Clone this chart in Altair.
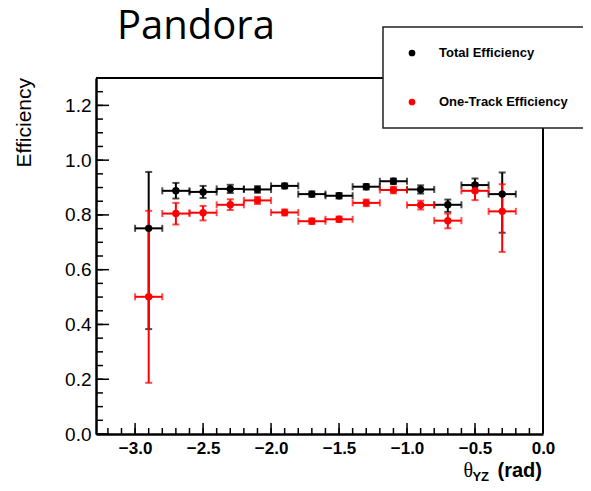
import altair as alt
import pandas as pd

# ---- data ----
theta = [-2.9, -2.7, -2.5, -2.3, -2.1, -1.9, -1.7, -1.5, -1.3, -1.1, -0.9, -0.7, -0.5, -0.3]
half_bin = 0.1

total = [0.751, 0.888, 0.884, 0.895, 0.893, 0.906, 0.876, 0.870, 0.903, 0.923, 0.893, 0.837, 0.909, 0.876]
total_hi = [0.957, 0.917, 0.906, 0.910, 0.905, 0.915, 0.886, 0.880, 0.913, 0.933, 0.908, 0.856, 0.933, 0.955]
total_lo = [0.383, 0.860, 0.862, 0.880, 0.881, 0.897, 0.866, 0.860, 0.893, 0.913, 0.878, 0.811, 0.884, 0.735]

onetrack = [0.501, 0.805, 0.808, 0.837, 0.853, 0.809, 0.777, 0.784, 0.844, 0.891, 0.836, 0.779, 0.888, 0.813]
onetrack_hi = [0.815, 0.844, 0.833, 0.857, 0.866, 0.820, 0.787, 0.794, 0.856, 0.903, 0.852, 0.805, 0.915, 0.912]
onetrack_lo = [0.187, 0.765, 0.780, 0.818, 0.840, 0.798, 0.767, 0.774, 0.832, 0.879, 0.820, 0.751, 0.854, 0.665]

series_names = ["Total Efficiency", "One-Track Efficiency"]
series_colors = ["#000000", "#ff0000"]

x_major = [-3.0, -2.5, -2.0, -1.5, -1.0, -0.5, 0.0]
x_minor = [round(-3.2 + 0.1 * i, 2) for i in range(33)]
y_major = [0.0, 0.2, 0.4, 0.6, 0.8, 1.0, 1.2]
y_minor = [round(0.05 * i, 2) for i in range(27)]

X_DOMAIN = [-3.2875, 0.0]
Y_DOMAIN = [0.0, 1.3]
W, H = 447, 356

xs = alt.Scale(domain=X_DOMAIN, nice=False, zero=False)
ys = alt.Scale(domain=Y_DOMAIN, nice=False, zero=False)

x_axis = alt.Axis(
    values=x_major, format=".1f", title=None, ticks=False, grid=False,
    domainColor="black", domainWidth=2.5, labelFont="Liberation Sans",
    labelFontSize=17, labelFontWeight="bold", labelColor="black", labelPadding=6,
    labelFlush=False, labelOverlap=False)
y_axis = alt.Axis(
    values=y_major, format=".1f", title=None, ticks=False, grid=False,
    domainColor="black", domainWidth=2.5, labelFont="Liberation Sans",
    labelFontSize=19, labelColor="black", labelPadding=5,
    labelFlush=False, labelOverlap=False)

def frame(vals, lo, hi):
    return pd.DataFrame({
        "x": theta,
        "xlo": [t - half_bin for t in theta],
        "xhi": [t + half_bin for t in theta],
        "y": vals, "ylo": lo, "yhi": hi,
    })

df_total = frame(total, total_lo, total_hi)
df_one = frame(onetrack, onetrack_lo, onetrack_hi)

X = lambda f: alt.X(f, type="quantitative", scale=xs, axis=x_axis)
Y = lambda f: alt.Y(f, type="quantitative", scale=ys, axis=y_axis)

def err_layers(df, color):
    b = alt.Chart(df)
    return [
        b.mark_rule(color=color, strokeWidth=2).encode(x=X("xlo"), x2="xhi", y=Y("y")),
        b.mark_tick(color=color, orient="vertical", size=7, thickness=2).encode(x=X("xlo"), y=Y("y")),
        b.mark_tick(color=color, orient="vertical", size=7, thickness=2).encode(x=X("xhi"), y=Y("y")),
        b.mark_rule(color=color, strokeWidth=2).encode(x=X("x"), y=Y("ylo"), y2="yhi"),
        b.mark_tick(color=color, orient="horizontal", size=7, thickness=2).encode(x=X("x"), y=Y("ylo")),
        b.mark_tick(color=color, orient="horizontal", size=7, thickness=2).encode(x=X("x"), y=Y("yhi")),
    ]

def pts(df, color):
    return alt.Chart(df).mark_circle(color=color, size=55, opacity=1).encode(x=X("x"), y=Y("y"))

one = pd.DataFrame({"a": [0]})

# inner ticks
ty_major = alt.Chart(pd.DataFrame({"v": y_major})).mark_rule(color="black", strokeWidth=1.5).encode(
    y=Y("v"), x=alt.value(0), x2=alt.value(13))
ty_minor = alt.Chart(pd.DataFrame({"v": y_minor})).mark_rule(color="black", strokeWidth=1.5).encode(
    y=Y("v"), x=alt.value(0), x2=alt.value(7))
tx_major = alt.Chart(pd.DataFrame({"v": x_major})).mark_rule(color="black", strokeWidth=1.5).encode(
    x=X("v"), y=alt.value(H), y2=alt.value(H - 11))
tx_minor = alt.Chart(pd.DataFrame({"v": x_minor})).mark_rule(color="black", strokeWidth=1.5).encode(
    x=X("v"), y=alt.value(H), y2=alt.value(H - 6))

# top and right frame
top_line = alt.Chart(one).mark_rule(color="black", strokeWidth=2).encode(
    x=alt.value(0), x2=alt.value(W), y=alt.value(0))
right_line = alt.Chart(one).mark_rule(color="black", strokeWidth=2).encode(
    x=alt.value(W), y=alt.value(0), y2=alt.value(H))

# title and axis titles
title = alt.Chart(one).mark_text(text="Pandora", font="Open Sans", fontSize=40, align="left",
                                 baseline="alphabetic", color="black").encode(
    x=alt.value(21), y=alt.value(-39))
ytitle = alt.Chart(one).mark_text(text="Efficiency", font="Liberation Sans", fontSize=21,
                                  angle=270, align="right", baseline="middle", color="black").encode(
    x=alt.value(-71), y=alt.value(0))
xt_rad = alt.Chart(one).mark_text(text="(rad)", font="Liberation Sans", fontSize=20, fontWeight="bold",
                                  align="right", baseline="alphabetic", color="black").encode(
    x=alt.value(W - 1), y=alt.value(399))
xt_sub = alt.Chart(one).mark_text(text="YZ", font="Liberation Sans", fontSize=13, fontWeight="bold",
                                  align="right", baseline="alphabetic", color="black").encode(
    x=alt.value(W - 54), y=alt.value(403))
xt_theta = alt.Chart(one).mark_text(text="θ", font="Liberation Serif", fontSize=20,
                                    align="right", baseline="alphabetic", color="black").encode(
    x=alt.value(W - 70), y=alt.value(399))

# legend box
leg_box = alt.Chart(one).mark_rect(fill="white", stroke="#222222", strokeWidth=1.5).encode(
    x=alt.value(287), x2=alt.value(520), y=alt.value(-51), y2=alt.value(50))
leg_rows = []
for name, color, ypix in zip(series_names, series_colors, [-25, 24]):
    leg_rows.append(alt.Chart(one).mark_circle(size=45, opacity=1, color=color).encode(
        x=alt.value(316), y=alt.value(ypix)))
    leg_rows.append(alt.Chart(one).mark_text(text=name, font="Liberation Sans", fontSize=13,
                                             fontWeight="bold", align="left", baseline="middle",
                                             color="black").encode(
        x=alt.value(343), y=alt.value(ypix)))

chart = alt.layer(
    ty_major, ty_minor, tx_major, tx_minor, top_line, right_line,
    *err_layers(df_total, "#000000"), *err_layers(df_one, "#ff0000"),
    pts(df_total, "#000000"), pts(df_one, "#ff0000"),
    title, ytitle, xt_rad, xt_sub, xt_theta,
    leg_box, *leg_rows,
).properties(
    width=W, height=H,
    autosize=alt.AutoSizeParams(type="none"),
    padding={"left": 88, "top": 70, "right": 40, "bottom": 49},
).configure_view(stroke=None)

chart.save("out.html", embed_options={"renderer": "svg", "actions": False})
